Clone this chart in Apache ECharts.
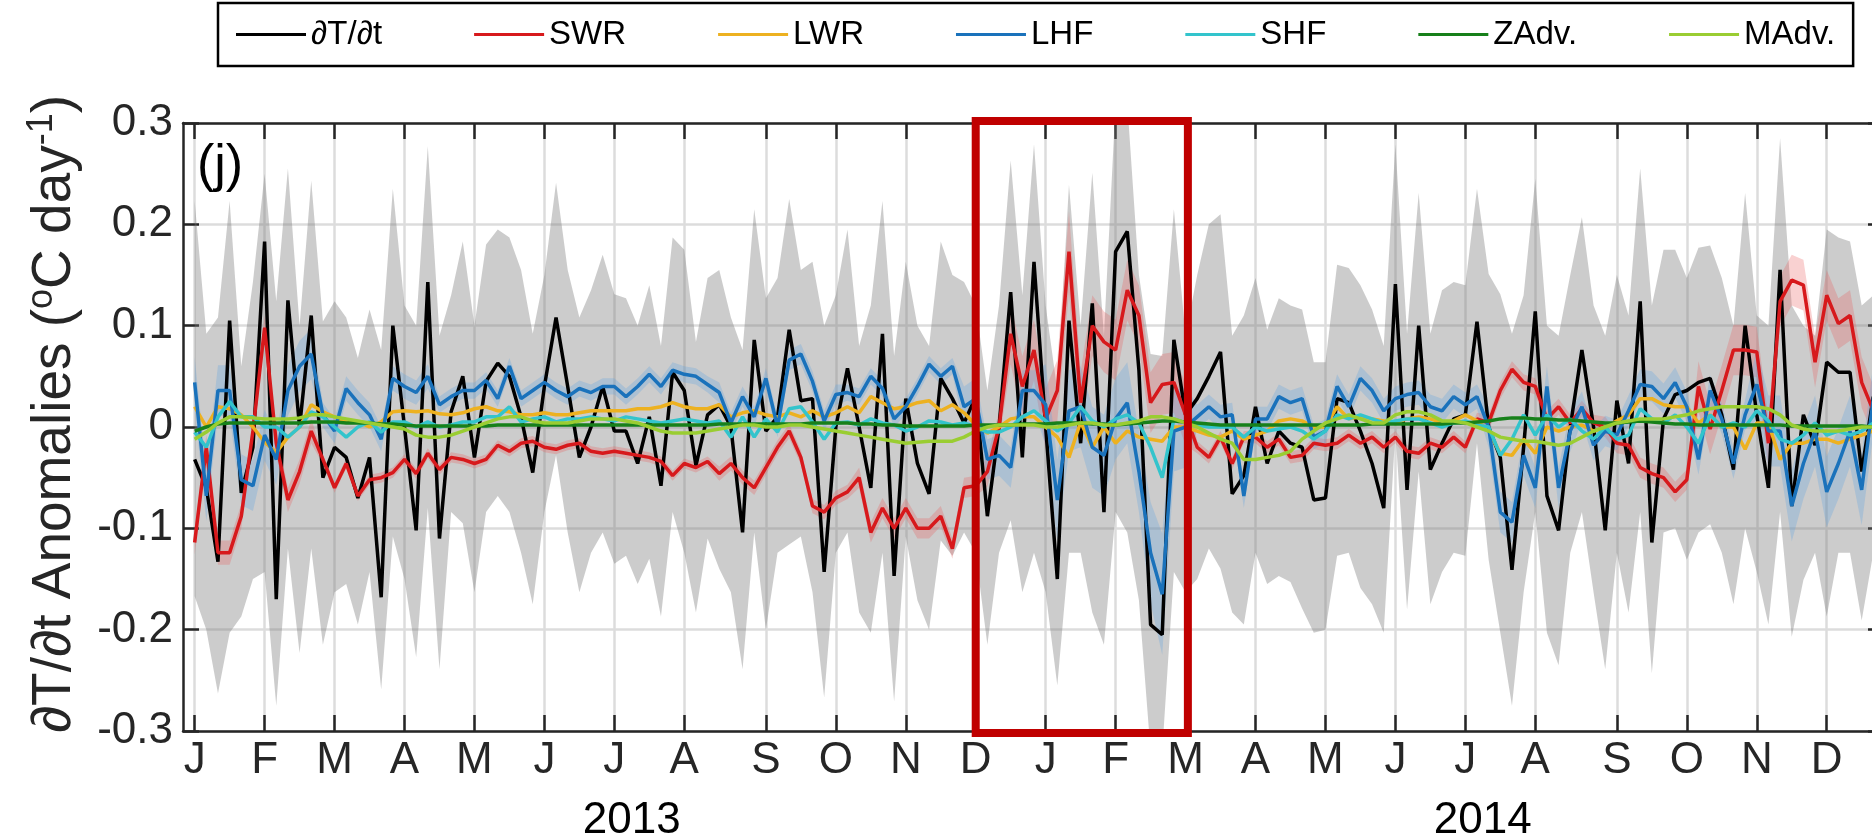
<!DOCTYPE html>
<html>
<head>
<meta charset="utf-8">
<script src="https://cdn.jsdelivr.net/npm/echarts@6/dist/echarts.min.js"></script>
<style>
  html, body { margin: 0; padding: 0; background: #fff; }
  #chart { width: 1872px; height: 836px; }
</style>
</head>
<body>
<div id="chart"></div>
<script>
// pentad index 0 = first pentad of Jan 2013
const monthTicks = [0, 6, 12, 18, 24, 30, 36, 42, 49, 55, 61, 67, 73, 79, 85, 91, 97, 103, 109, 115, 122, 128, 134, 140];
const monthLabels = ['J', 'F', 'M', 'A', 'M', 'J', 'J', 'A', 'S', 'O', 'N', 'D', 'J', 'F', 'M', 'A', 'M', 'J', 'J', 'A', 'S', 'O', 'N', 'D'];
const yearTicks = [37.5, 110.5];
const yearLabels = ['2013', '2014'];

const dTdt = [
  -0.032, -0.06, -0.133, 0.105, -0.065, -0.02, 0.183, -0.17, 0.125, 0.0,
  0.11, -0.05, -0.02, -0.03, -0.07, -0.03, -0.168, 0.1, 0.0, -0.102,
  0.143, -0.11, 0.015, 0.05, -0.03, 0.045, 0.063, 0.05, 0.01, -0.045,
  0.04, 0.108, 0.04, -0.03, 0.0, 0.04, -0.004, -0.004, -0.036, 0.01,
  -0.058, 0.054, 0.036, -0.038, 0.012, 0.022, 0.0, -0.104, 0.086, -0.004,
  0.01, 0.096, 0.026, 0.028, -0.143, 0.0, 0.058, 0.0, -0.06, 0.092,
  -0.147, 0.028, -0.036, -0.066, 0.048, 0.028, 0.004, 0.03, -0.088, 0.0,
  0.133, -0.03, 0.163, 0.0, -0.15, 0.105, -0.016, 0.122, -0.084, 0.173,
  0.193, 0.056, -0.195, -0.205, 0.086, 0.012, 0.028, 0.05, 0.074, -0.066,
  -0.048, 0.02, -0.036, -0.004, -0.016, -0.02, -0.072, -0.07, 0.028, 0.024,
  -0.004, -0.036, -0.08, 0.141, -0.062, 0.1, -0.042, -0.016, 0.008, 0.012,
  0.104, 0.0, -0.03, -0.141, -0.02, 0.114, -0.068, -0.102, 0.0, 0.076,
  0.0, -0.102, 0.026, -0.036, 0.124, -0.114, 0.008, 0.032, 0.036, 0.044,
  0.048, 0.012, -0.042, 0.1, 0.012, -0.06, 0.155, -0.078, 0.012, -0.018,
  0.064, 0.054, 0.054, -0.044, 0.03
];
const swr = [
  -0.114, -0.02, -0.124, -0.124, -0.088, -0.004, 0.098, -0.016, -0.072, -0.044,
  -0.004, -0.032, -0.06, -0.036, -0.068, -0.052, -0.05, -0.045, -0.032, -0.046,
  -0.026, -0.042, -0.03, -0.032, -0.036, -0.032, -0.018, -0.024, -0.016, -0.014,
  -0.02, -0.022, -0.018, -0.016, -0.024, -0.026, -0.024, -0.026, -0.028, -0.03,
  -0.034, -0.048, -0.036, -0.04, -0.034, -0.046, -0.036, -0.05, -0.06, -0.04,
  -0.02, -0.004, -0.03, -0.078, -0.084, -0.07, -0.064, -0.05, -0.104, -0.08,
  -0.1, -0.08, -0.1, -0.1, -0.088, -0.12, -0.06, -0.058, -0.044, 0.0,
  0.092, 0.04, 0.076, 0.008, 0.036, 0.173, 0.024, 0.1, 0.084, 0.076,
  0.135, 0.11, 0.024, 0.042, 0.044, 0.012, -0.02, -0.03, -0.01, -0.036,
  -0.01, -0.01, -0.02, -0.012, -0.03, -0.028, -0.016, -0.018, -0.016, -0.008,
  -0.016, -0.01, -0.02, -0.01, -0.024, -0.026, -0.016, -0.02, -0.01, -0.02,
  0.008, 0.004, 0.036, 0.057, 0.044, 0.04, 0.008, 0.02, 0.004, 0.018,
  0.004, 0.0, -0.016, -0.018, -0.04, -0.046, -0.05, -0.064, -0.052, 0.04,
  -0.002, 0.036, 0.076, 0.076, 0.074, -0.016, 0.124, 0.145, 0.14, 0.064,
  0.13, 0.102, 0.11, 0.044, 0.016
];
const lwr = [
  0.02, 0.0, 0.02, 0.018, 0.012, 0.0, -0.015, -0.025, -0.01, 0.0,
  0.022, 0.015, 0.01, 0.005, 0.005, 0.0, 0.005, 0.015, 0.016, 0.015,
  0.016, 0.013, 0.012, 0.014, 0.018, 0.02, 0.016, 0.015, 0.012, 0.012,
  0.014, 0.012, 0.012, 0.014, 0.016, 0.016, 0.016, 0.016, 0.018, 0.018,
  0.02, 0.024, 0.02, 0.018, 0.018, 0.022, 0.01, 0.014, 0.016, 0.012,
  0.01, 0.014, 0.01, 0.016, 0.01, 0.014, 0.02, 0.014, 0.03, 0.024,
  0.018, 0.02, 0.024, 0.026, 0.016, 0.022, 0.014, 0.002, -0.006, 0.0,
  0.008, 0.01, 0.01, 0.0, -0.01, -0.03, 0.005, -0.02, 0.0, -0.016,
  -0.004, -0.01, -0.012, -0.014, 0.0, 0.0, -0.004, -0.008, -0.01, -0.004,
  -0.012, -0.008, -0.004, 0.006, 0.008, 0.006, 0.0, 0.0, 0.02, 0.008,
  0.01, 0.008, 0.006, 0.004, 0.008, 0.01, 0.008, 0.004, 0.006, 0.012,
  0.006, -0.004, -0.026, -0.028, -0.012, -0.026, 0.0, -0.004, 0.0, 0.002,
  -0.004, 0.0, 0.006, 0.012, 0.028, 0.028, 0.022, 0.02, 0.02, 0.004,
  0.012, 0.0, 0.0, -0.022, 0.004, 0.004, -0.032, -0.016, -0.016, -0.012,
  -0.012, -0.016, -0.012, -0.008, -0.004
];
const lhf = [
  0.044, -0.068, 0.036, 0.036, -0.052, -0.058, -0.008, -0.032, 0.036, 0.06,
  0.072, 0.012, -0.004, 0.038, 0.024, 0.012, -0.012, 0.048, 0.04, 0.034,
  0.05, 0.022, 0.03, 0.036, 0.036, 0.046, 0.028, 0.06, 0.028, 0.036,
  0.044, 0.036, 0.03, 0.038, 0.034, 0.04, 0.04, 0.03, 0.04, 0.052,
  0.04, 0.056, 0.052, 0.05, 0.042, 0.034, 0.004, 0.03, 0.01, 0.048,
  0.0, 0.066, 0.072, 0.045, 0.006, 0.032, 0.034, 0.03, 0.05, 0.038,
  0.008, 0.02, 0.04, 0.062, 0.05, 0.06, 0.02, 0.028, -0.032, -0.028,
  -0.04, 0.036, 0.036, 0.022, -0.072, 0.016, 0.02, -0.02, -0.028, 0.008,
  0.024, -0.044, -0.124, -0.165, -0.004, 0.0, 0.01, 0.02, 0.01, 0.012,
  -0.068, 0.008, 0.008, 0.03, 0.024, 0.028, -0.01, -0.004, 0.04, 0.02,
  0.048, 0.036, 0.016, 0.028, 0.032, 0.034, 0.02, 0.016, 0.03, 0.022,
  0.03, 0.0, -0.084, -0.094, -0.028, -0.06, 0.04, -0.06, -0.004, 0.02,
  -0.018, -0.004, -0.008, 0.016, 0.042, 0.04, 0.028, 0.044, 0.02, -0.032,
  0.036, 0.008, -0.036, 0.012, 0.042, -0.004, -0.004, -0.078, -0.036, -0.004,
  -0.064, -0.036, -0.004, -0.062, 0.028
];
const shf = [
  -0.005, -0.02, 0.01, 0.025, 0.01, 0.01, 0.0, 0.0, -0.01, 0.0,
  0.015, 0.01, 0.0, -0.01, 0.0, 0.005, -0.005, 0.005, 0.005, 0.0,
  0.005, 0.0, 0.002, 0.005, 0.005, 0.01, 0.01, 0.02, 0.005, 0.008,
  0.01, 0.005, 0.008, 0.008, 0.01, 0.008, 0.006, 0.01, 0.008, 0.006,
  0.004, 0.006, 0.008, 0.006, 0.004, 0.006, -0.01, 0.01, -0.01, 0.008,
  -0.005, 0.018, 0.02, 0.005, -0.012, 0.004, 0.005, 0.002, 0.008, 0.004,
  0.002, -0.004, 0.0, 0.006, 0.005, 0.002, 0.004, 0.0, -0.005, -0.005,
  0.0, 0.01, 0.016, 0.006, -0.004, 0.004, 0.02, 0.006, 0.0, 0.008,
  0.012, 0.004, -0.02, -0.05, 0.008, 0.004, 0.002, 0.0, 0.0, 0.0,
  -0.01, 0.0, -0.004, -0.002, 0.0, -0.004, -0.012, -0.004, 0.012, 0.008,
  0.012, 0.008, 0.004, 0.006, 0.008, 0.008, 0.004, 0.0, 0.004, 0.006,
  0.002, 0.0, -0.028, -0.012, 0.012, -0.008, 0.012, 0.0, 0.008, -0.004,
  -0.012, 0.0, -0.012, -0.008, 0.018, 0.008, 0.004, 0.012, 0.0, -0.016,
  0.012, 0.0, 0.004, 0.0, 0.016, 0.006, -0.012, -0.016, -0.008, 0.004,
  -0.008, -0.004, -0.008, -0.004, 0.004
];
const zadv = [
  -0.004, 0.0, 0.003, 0.004, 0.004, 0.004, 0.004, 0.004, 0.004, 0.004,
  0.005, 0.005, 0.005, 0.004, 0.004, 0.004, 0.003, 0.003, 0.002, 0.001,
  0.001, 0.001, 0.001, 0.001, 0.001, 0.001, 0.002, 0.002, 0.002, 0.002,
  0.002, 0.002, 0.002, 0.002, 0.002, 0.002, 0.002, 0.002, 0.002, 0.002,
  0.002, 0.002, 0.002, 0.002, 0.002, 0.003, 0.003, 0.003, 0.003, 0.003,
  0.003, 0.003, 0.003, 0.004, 0.004, 0.004, 0.004, 0.003, 0.003, 0.002,
  0.002, 0.001, 0.001, 0.001, 0.001, 0.001, 0.001, 0.002, 0.002, 0.002,
  0.002, 0.003, 0.003, 0.003, 0.004, 0.004, 0.004, 0.003, 0.003, 0.002,
  0.003, 0.004, 0.005, 0.006, 0.006, 0.005, 0.004, 0.003, 0.002, 0.002,
  0.002, 0.002, 0.002, 0.002, 0.002, 0.002, 0.002, 0.002, 0.002, 0.002,
  0.002, 0.003, 0.003, 0.003, 0.003, 0.003, 0.003, 0.003, 0.004, 0.004,
  0.005, 0.006, 0.008, 0.009, 0.009, 0.008, 0.008, 0.007, 0.007, 0.006,
  0.005, 0.004, 0.004, 0.005, 0.006, 0.005, 0.004, 0.003, 0.003, 0.002,
  0.002, 0.002, 0.002, 0.002, 0.002, 0.002, 0.002, 0.001, 0.001, 0.001,
  0.001, 0.001, 0.001, 0.001, 0.0
];
const madv = [
  -0.012, -0.005, 0.004, 0.01, 0.01, 0.009, 0.008, 0.008, 0.008, 0.009,
  0.012, 0.012, 0.01, 0.008, 0.006, 0.004, 0.002, 0.0, -0.002, -0.008,
  -0.01, -0.01, -0.008, -0.004, 0.0, 0.004, 0.008, 0.01, 0.01, 0.006,
  0.004, 0.004, 0.004, 0.006, 0.008, 0.008, 0.008, 0.006, 0.004, 0.0,
  -0.004, -0.006, -0.006, -0.006, -0.004, -0.002, 0.0, 0.002, 0.002, 0.0,
  0.0, 0.002, 0.002, 0.0, -0.002, -0.004, -0.006, -0.008, -0.01, -0.012,
  -0.014, -0.016, -0.015, -0.014, -0.014, -0.014, -0.01, -0.004, 0.0, 0.002,
  0.002, 0.002, 0.002, 0.0, 0.0, 0.002, 0.004, 0.004, 0.002, 0.002,
  0.004, 0.006, 0.01, 0.01, 0.008, 0.004, 0.0, -0.006, -0.012, -0.016,
  -0.032, -0.032, -0.03, -0.028, -0.024, -0.012, -0.004, 0.004, 0.008, 0.012,
  0.008, 0.004, 0.004, 0.012, 0.015, 0.015, 0.012, 0.006, 0.006, 0.004,
  0.0, -0.004, -0.01, -0.012, -0.014, -0.014, -0.016, -0.018, -0.016, -0.01,
  -0.004, 0.0, 0.004, 0.006, 0.008, 0.008, 0.008, 0.01, 0.012, 0.016,
  0.018, 0.02, 0.02, 0.02, 0.02, 0.018, 0.012, 0.002, -0.002, -0.004,
  -0.004, -0.004, -0.002, 0.0, 0.0
];
// grey envelope (upper / lower)
const greyUpper = [
  0.223, 0.092, 0.108, 0.223, 0.06, 0.143, 0.25, 0.124, 0.255, 0.1,
  0.243, 0.104, 0.124, 0.108, 0.068, 0.116, 0.076, 0.235, 0.12, 0.1,
  0.277, 0.09, 0.13, 0.183, 0.1, 0.18, 0.195, 0.187, 0.155, 0.092,
  0.15, 0.241, 0.155, 0.108, 0.135, 0.17, 0.131, 0.127, 0.1, 0.14,
  0.08, 0.187, 0.175, 0.084, 0.147, 0.155, 0.108, 0.076, 0.215, 0.127,
  0.147, 0.225, 0.155, 0.163, 0.1, 0.13, 0.195, 0.08, 0.12, 0.223,
  0.07, 0.163, 0.1, 0.08, 0.183, 0.15, 0.143, 0.12, 0.036, 0.12,
  0.263, 0.13, 0.279, 0.12, 0.036, 0.239, 0.1, 0.251, 0.09, 0.32,
  0.32, 0.15, 0.072, 0.07, 0.215, 0.09, 0.15, 0.2, 0.21, 0.09,
  0.11, 0.147, 0.096, 0.127, 0.12, 0.116, 0.064, 0.064, 0.16, 0.157,
  0.14, 0.116, 0.08, 0.279, 0.092, 0.231, 0.092, 0.135, 0.143, 0.14,
  0.235, 0.151, 0.131, 0.092, 0.13, 0.245, 0.1, 0.09, 0.15, 0.207,
  0.12, 0.09, 0.15, 0.11, 0.255, 0.12, 0.175, 0.175, 0.147, 0.177,
  0.179, 0.147, 0.1, 0.231, 0.11, 0.1, 0.285, 0.12, 0.1, 0.09,
  0.195, 0.187, 0.183, 0.12, 0.13
];
const greyLower = [
  -0.167, -0.2, -0.263, -0.203, -0.187, -0.15, -0.143, -0.275, -0.12, -0.223,
  -0.12, -0.215, -0.163, -0.155, -0.195, -0.143, -0.259, -0.108, -0.15, -0.227,
  -0.08, -0.239, -0.084, -0.095, -0.163, -0.084, -0.068, -0.084, -0.124, -0.175,
  -0.084, -0.028, -0.104, -0.163, -0.124, -0.104, -0.135, -0.127, -0.155, -0.13,
  -0.187, -0.084, -0.124, -0.183, -0.11, -0.14, -0.163, -0.239, -0.104, -0.2,
  -0.124, -0.116, -0.108, -0.163, -0.267, -0.124, -0.104, -0.183, -0.203, -0.124,
  -0.271, -0.108, -0.171, -0.2, -0.112, -0.127, -0.104, -0.124, -0.215, -0.124,
  -0.092, -0.163, -0.124, -0.163, -0.255, -0.124, -0.124, -0.183, -0.215, -0.084,
  -0.104, -0.171, -0.32, -0.32, -0.143, -0.163, -0.15, -0.12, -0.14, -0.183,
  -0.195, -0.124, -0.155, -0.147, -0.153, -0.179, -0.203, -0.2, -0.127, -0.124,
  -0.159, -0.175, -0.203, -0.004, -0.18, -0.044, -0.175, -0.143, -0.124, -0.127,
  -0.016, -0.131, -0.203, -0.275, -0.163, -0.084, -0.203, -0.235, -0.124, -0.084,
  -0.163, -0.239, -0.124, -0.183, -0.084, -0.243, -0.104, -0.1, -0.131, -0.104,
  -0.096, -0.124, -0.175, -0.1, -0.143, -0.195, -0.084, -0.207, -0.151, -0.124,
  -0.187, -0.124, -0.124, -0.191, -0.124
];
// half widths of the shaded bands round SWR and LHF
const swrSpread = [
  0.012, 0.012, 0.012, 0.012, 0.012, 0.012, 0.012, 0.012, 0.012, 0.012,
  0.012, 0.005, 0.005, 0.005, 0.005, 0.005, 0.005, 0.005, 0.005, 0.005,
  0.005, 0.005, 0.005, 0.005, 0.005, 0.005, 0.005, 0.005, 0.005, 0.005,
  0.005, 0.005, 0.005, 0.005, 0.005, 0.005, 0.005, 0.005, 0.005, 0.005,
  0.005, 0.005, 0.005, 0.005, 0.005, 0.007, 0.007, 0.007, 0.007, 0.007,
  0.007, 0.007, 0.007, 0.007, 0.007, 0.007, 0.007, 0.01, 0.01, 0.01,
  0.01, 0.01, 0.01, 0.01, 0.01, 0.01, 0.01, 0.01, 0.015, 0.015,
  0.03, 0.03, 0.03, 0.03, 0.03, 0.04, 0.03, 0.03, 0.03, 0.03,
  0.03, 0.03, 0.03, 0.03, 0.03, 0.03, 0.006, 0.006, 0.006, 0.006,
  0.006, 0.006, 0.006, 0.006, 0.006, 0.006, 0.006, 0.006, 0.006, 0.006,
  0.006, 0.006, 0.006, 0.006, 0.006, 0.006, 0.006, 0.006, 0.006, 0.006,
  0.006, 0.008, 0.008, 0.008, 0.008, 0.008, 0.008, 0.008, 0.008, 0.008,
  0.008, 0.01, 0.01, 0.01, 0.01, 0.01, 0.01, 0.01, 0.01, 0.025,
  0.025, 0.025, 0.025, 0.025, 0.025, 0.025, 0.025, 0.025, 0.025, 0.025,
  0.025, 0.025, 0.025, 0.025, 0.025
];
const lhfSpread = [
  0.025, 0.025, 0.025, 0.025, 0.025, 0.025, 0.025, 0.025, 0.025, 0.025,
  0.025, 0.012, 0.012, 0.012, 0.012, 0.012, 0.012, 0.012, 0.012, 0.012,
  0.012, 0.008, 0.008, 0.008, 0.008, 0.008, 0.008, 0.008, 0.008, 0.008,
  0.008, 0.008, 0.008, 0.008, 0.008, 0.008, 0.008, 0.008, 0.008, 0.008,
  0.008, 0.008, 0.008, 0.008, 0.008, 0.01, 0.01, 0.01, 0.01, 0.01,
  0.01, 0.01, 0.01, 0.01, 0.01, 0.01, 0.008, 0.008, 0.008, 0.008,
  0.008, 0.008, 0.008, 0.008, 0.008, 0.008, 0.02, 0.02, 0.02, 0.02,
  0.02, 0.02, 0.02, 0.04, 0.04, 0.04, 0.04, 0.04, 0.04, 0.04,
  0.04, 0.04, 0.05, 0.06, 0.04, 0.04, 0.012, 0.012, 0.012, 0.012,
  0.012, 0.012, 0.012, 0.012, 0.012, 0.012, 0.012, 0.012, 0.012, 0.012,
  0.012, 0.012, 0.012, 0.012, 0.012, 0.012, 0.012, 0.012, 0.012, 0.012,
  0.012, 0.02, 0.02, 0.02, 0.02, 0.02, 0.02, 0.02, 0.02, 0.015,
  0.015, 0.015, 0.015, 0.015, 0.015, 0.015, 0.015, 0.015, 0.015, 0.015,
  0.015, 0.015, 0.015, 0.015, 0.035, 0.035, 0.035, 0.035, 0.035, 0.035,
  0.035, 0.035, 0.035, 0.035, 0.035
];
// highlighted period (pentad range) for the red box
const boxRange = [67, 85.2];

const FONT = '"Liberation Sans", Arial, Helvetica, sans-serif';
const AXIS_COLOR = '#262626';

let xy = arr => arr.map((v, i) => [i, v]);

// filled envelope between lower and upper, drawn through the axes
function band(name, lower, upper, color) {
  return {
    name: name, type: 'custom', silent: true, clip: true, z: 1,
    data: [[0, 0]],
    encode: { x: 0, y: 1 },
    renderItem: function (params, api) {
      let pts = [];
      upper.forEach((v, i) => pts.push(api.coord([i, v])));
      for (let i = lower.length - 1; i >= 0; i--) pts.push(api.coord([i, lower[i]]));
      return { type: 'polygon', shape: { points: pts }, style: { fill: color } };
    }
  };
}

function line(name, data, color) {
  return {
    name: name, type: 'line', data: xy(data), color: color,
    symbol: 'none', lineStyle: { width: 3.5, color: color }, z: 3
  };
}

let chart = echarts.init(document.getElementById('chart'));

let names = ['\u2202T/\u2202t', 'SWR', 'LWR', 'LHF', 'SHF', 'ZAdv.', 'MAdv.'];

chart.setOption({
  animation: false,
  backgroundColor: '#fff',
  textStyle: { fontFamily: FONT },
  grid: { left: 183, top: 123, width: 1702, height: 608, containLabel: false, outerBoundsMode: 'none' },
  legend: {
    data: names,
    left: 218, top: 3,
    padding: [15, 18],
    itemGap: 92,
    itemWidth: 70, itemHeight: 3,
    icon: 'rect',
    borderColor: '#000', borderWidth: 2.5,
    textStyle: { fontSize: 33, color: '#000', fontFamily: FONT }
  },
  xAxis: [
    {
      type: 'value', min: -1, max: 145, position: 'bottom',
      axisLine: { onZero: false, lineStyle: { color: AXIS_COLOR, width: 2.5 } },
      axisTick: { inside: true, length: 16, customValues: monthTicks, lineStyle: { color: AXIS_COLOR, width: 2.5 } },
      axisLabel: {
        customValues: monthTicks, margin: 8, fontSize: 44, color: AXIS_COLOR,
        formatter: v => monthLabels[monthTicks.indexOf(v)]
      },
      splitLine: { show: true, lineStyle: { color: '#dcdcdc', width: 2.5 } }
    },
    {
      type: 'value', min: -1, max: 145, position: 'top',
      axisLine: { onZero: false, lineStyle: { color: AXIS_COLOR, width: 2.5 } },
      axisTick: { inside: true, length: 16, customValues: monthTicks, lineStyle: { color: AXIS_COLOR, width: 2.5 } },
      axisLabel: { show: false },
      splitLine: { show: false }
    },
    {
      type: 'value', min: -1, max: 145, position: 'bottom', offset: 60,
      axisLine: { show: false },
      axisTick: { show: false },
      axisLabel: {
        customValues: yearTicks, margin: 8, fontSize: 44, color: '#000',
        formatter: v => yearLabels[yearTicks.indexOf(v)]
      },
      splitLine: { show: false }
    }
  ],
  yAxis: [
    {
      type: 'value', min: -0.3, max: 0.3, interval: 0.1, position: 'left',
      axisLine: { show: true, onZero: false, lineStyle: { color: AXIS_COLOR, width: 2.5 } },
      axisTick: { show: true, inside: true, length: 16, lineStyle: { color: AXIS_COLOR, width: 2.5 } },
      axisLabel: { margin: 10, fontSize: 44, color: AXIS_COLOR },
      splitLine: { show: true, lineStyle: { color: '#dcdcdc', width: 2.5 } },
      name: '\u2202T/\u2202t Anomalies ({sup|o}C day{sup|-1})',
      nameLocation: 'middle', nameRotate: 90, nameGap: 97,
      nameTextStyle: {
        fontSize: 55, color: AXIS_COLOR, fontFamily: FONT,
        padding: [0, 0, 0, 26],
        rich: { sup: { fontSize: 36, padding: [0, 0, 26, 0], fontFamily: FONT, color: AXIS_COLOR } }
      }
    },
    {
      type: 'value', min: -0.3, max: 0.3, interval: 0.1, position: 'right',
      axisLine: { show: true, onZero: false, lineStyle: { color: AXIS_COLOR, width: 2.5 } },
      axisTick: { show: true, inside: true, length: 17, lineStyle: { color: AXIS_COLOR, width: 2.5 } },
      axisLabel: { show: false },
      splitLine: { show: false }
    }
  ],
  series: [
    band('grey envelope', greyLower, greyUpper, 'rgba(120,120,120,0.38)'),
    band('SWR range', swr.map((v, i) => v - swrSpread[i]), swr.map((v, i) => v + swrSpread[i]), 'rgba(235,90,90,0.28)'),
    band('LHF range', lhf.map((v, i) => v - lhfSpread[i]), lhf.map((v, i) => v + lhfSpread[i]), 'rgba(90,160,225,0.28)'),
    line(names[0], dTdt, '#000000'),
    line(names[1], swr, '#d7191c'),
    line(names[2], lwr, '#edb120'),
    line(names[3], lhf, '#1a72bb'),
    line(names[4], shf, '#33c4cc'),
    line(names[5], zadv, '#17801a'),
    line(names[6], madv, '#9acd32')
  ]
});

// red box and panel letter
let p1 = chart.convertToPixel({ xAxisIndex: 0, yAxisIndex: 0 }, [boxRange[0], 0.302]);
let p2 = chart.convertToPixel({ xAxisIndex: 0, yAxisIndex: 0 }, [boxRange[1], -0.302]);
chart.setOption({
  graphic: [
    {
      type: 'rect', z: 100, silent: true,
      shape: { x: p1[0], y: p1[1], width: p2[0] - p1[0], height: p2[1] - p1[1] },
      style: { fill: 'none', stroke: '#c00000', lineWidth: 8 }
    },
    {
      type: 'text', left: 197, top: 141, z: 100,
      style: { text: '(j)', fontSize: 52, fill: '#000', fontFamily: FONT }
    }
  ]
});
</script>
</body>
</html>
